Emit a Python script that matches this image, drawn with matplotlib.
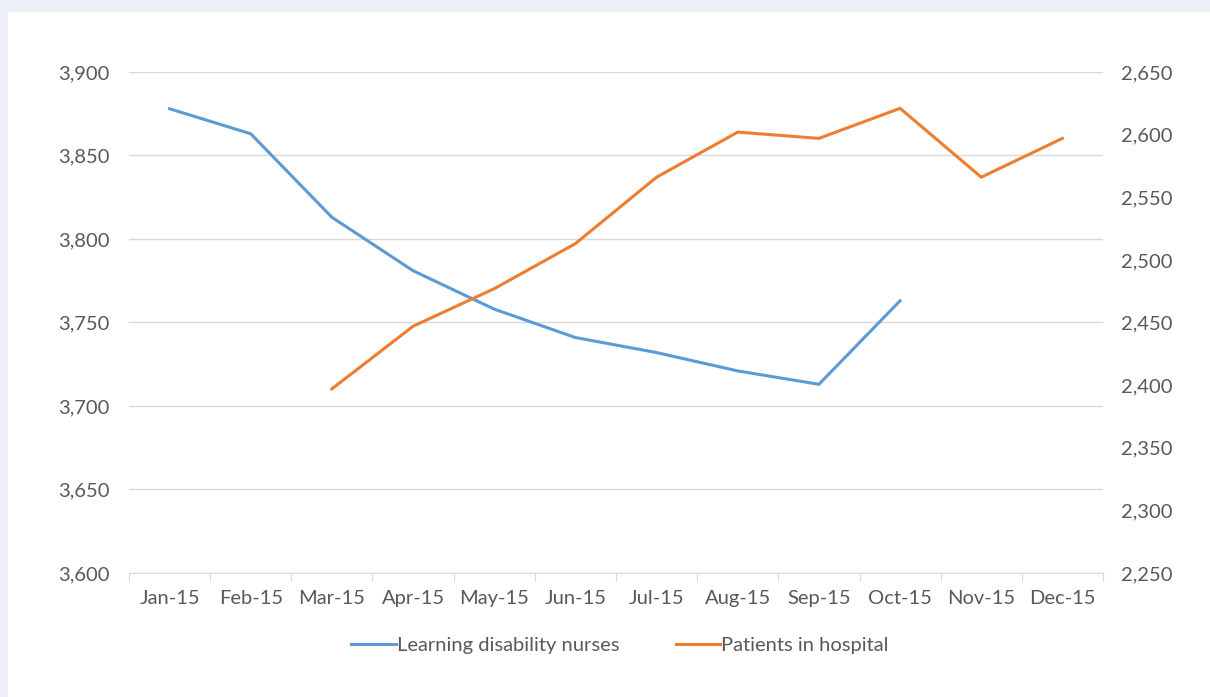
import numpy as np
import matplotlib.pyplot as plt
from matplotlib.ticker import FuncFormatter, MultipleLocator

plt.rcParams['font.family'] = ['Lato', 'DejaVu Sans']

months = ["Jan-15", "Feb-15", "Mar-15", "Apr-15", "May-15", "Jun-15",
          "Jul-15", "Aug-15", "Sep-15", "Oct-15", "Nov-15", "Dec-15"]
# 学习障碍护士人数（左轴），Nov/Dec 没有数据
nurses = [3878, 3863, 3813, 3781, 3758, 3741, 3732, 3721, 3713, 3763, np.nan, np.nan]
# 住院病人（右轴），Jan/Feb 没有数据
patients = [np.nan, np.nan, 2397, 2447, 2477, 2513, 2566, 2602, 2597, 2621, 2566, 2597]

txt = "#595959"
fs = 14.5
fig = plt.figure(figsize=(12.1, 6.97), dpi=100)
fig.patch.set_facecolor("#edf0f8")
# 白色面板
panel = fig.add_axes([8/1210, 0, 1 - 8/1210, 1 - 12/697])
panel.set_facecolor("white")
panel.set_xticks([]); panel.set_yticks([])
for s in panel.spines.values():
    s.set_visible(False)
panel.set_zorder(0)

ax = fig.add_axes([129/1210, 1 - 573/697, (1103 - 129)/1210, (573 - 72)/697])
ax.set_zorder(1)
ax.patch.set_alpha(0)
x = np.arange(len(months))
l1, = ax.plot(x, nurses, color="#5b9bd5", lw=2.2, label="Learning disability nurses")
ax.set_xlim(-0.5, len(months) - 0.5)
ax.set_ylim(3600, 3900)
ax.yaxis.set_major_locator(MultipleLocator(50))
ax.yaxis.set_major_formatter(FuncFormatter(lambda v, p: f"{v:,.0f}"))
ax.grid(axis="y", color="#d9d9d9", lw=1)
ax.set_axisbelow(True)
for s in ["top", "right", "left"]:
    ax.spines[s].set_visible(False)
ax.spines["bottom"].set_color("#d9d9d9")
ax.set_xticks(np.arange(-0.5, len(months), 1))
ax.set_xticklabels([])
ax.set_xticks(x, minor=True)
ax.set_xticklabels(months, minor=True)
ax.tick_params(axis="x", which="major", length=6, color="#d9d9d9")
ax.tick_params(axis="x", which="minor", length=0, pad=12, labelsize=fs, labelcolor=txt)
ax.tick_params(axis="y", length=0, pad=14, labelsize=fs, labelcolor=txt)

ax2 = ax.twinx()
l2, = ax2.plot(x, patients, color="#ed7d31", lw=2.2, label="Patients in hospital")
ax2.set_ylim(2250, 2650)
ax2.yaxis.set_major_locator(MultipleLocator(50))
ax2.yaxis.set_major_formatter(FuncFormatter(lambda v, p: f"{v:,.0f}"))
for s in ax2.spines.values():
    s.set_visible(False)
ax2.tick_params(axis="y", length=0, pad=13, labelsize=fs, labelcolor=txt)

fig.legend(handles=[l1, l2], loc="center", bbox_to_anchor=(620/1210, 1 - 645/697),
           ncol=2, frameon=False, fontsize=fs, labelcolor=txt,
           handlelength=2.2, handletextpad=0.05, columnspacing=2.8)

fig.savefig("out.png", dpi=100, facecolor=fig.get_facecolor())
